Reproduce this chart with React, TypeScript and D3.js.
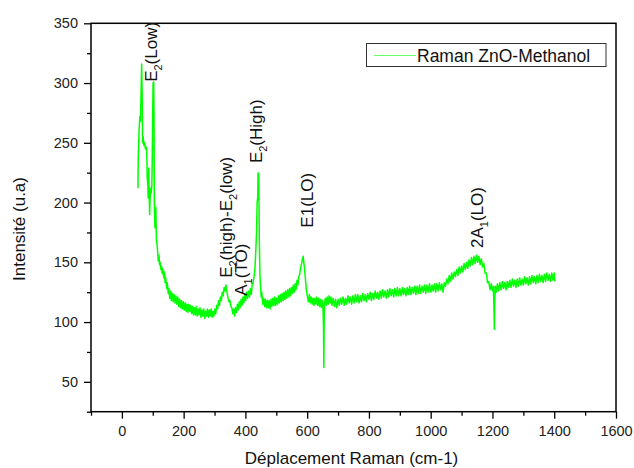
import * as d3 from "d3";
import React, { useEffect, useRef } from "react";

// Raman shift (cm-1) / intensity (u.a)
const spectrum: [number, number][] = [
  [52, 212], [53, 237], [55, 255], [56, 262], [58, 272], [60, 268], [62, 290], [64, 316], [65, 300], [66, 285],
  [67, 250], [69, 255], [71, 248], [74, 250], [76, 245], [78, 247], [80, 243], [81, 238], [82, 221], [84, 215],
  [85, 204], [87, 229], [88, 212], [90, 190], [91, 200], [93, 212], [95, 208], [97, 214], [98, 230], [99, 254],
  [101, 300], [103, 301], [104, 274], [105, 201], [107, 179], [108, 190], [110, 196], [111, 180], [112, 168], [114, 165],
  [116, 158], [118, 151], [120, 156], [122, 148], [124, 150], [126, 144], [128, 147], [130, 141], [132, 145], [134, 140],
  [136, 137], [138, 142], [140, 133], [142, 137], [145, 128], [147, 133], [150, 124], [152, 128], [155, 120], [158, 126],
  [160, 118], [163, 124], [166, 117], [169, 123], [172, 116], [175, 122], [178, 115], [181, 121], [184, 113], [187, 119],
  [190, 112], [193, 118], [196, 111], [199, 117], [202, 110], [205, 116], [208, 109], [211, 115], [214, 108], [217, 115],
  [220, 109], [223, 114], [226, 107], [229, 113], [232, 106], [235, 112], [238, 106], [241, 113], [244, 105], [247, 111],
  [250, 106], [253, 112], [256, 104], [259, 110], [262, 105], [265, 111], [268, 103], [271, 109], [274, 105], [277, 111],
  [280, 104], [283, 110], [286, 105], [289, 111], [292, 104], [295, 109], [298, 105], [301, 111], [304, 107], [307, 114],
  [310, 111], [313, 118], [316, 114], [319, 121], [322, 118], [325, 125], [328, 122], [331, 129], [334, 126], [337, 131],
  [339, 126], [341, 124], [344, 120], [347, 117], [350, 118], [353, 113], [356, 112], [359, 107], [362, 111], [365, 105],
  [368, 112], [371, 108], [374, 115], [377, 110], [380, 117], [383, 112], [386, 119], [389, 114], [392, 121], [395, 116],
  [398, 123], [401, 118], [404, 125], [407, 120], [410, 126], [413, 121], [416, 128], [419, 123], [422, 131], [425, 133],
  [428, 138], [431, 145], [434, 162], [436, 175], [438, 200], [440, 205], [441, 225], [442, 210], [443, 224], [444, 200],
  [445, 170], [447, 140], [449, 130], [451, 121], [453, 125], [456, 115], [459, 120], [462, 113], [465, 119], [468, 112],
  [471, 118], [474, 112], [477, 118], [480, 111], [483, 119], [486, 113], [489, 120], [492, 114], [495, 121], [498, 114],
  [501, 120], [504, 115], [507, 122], [510, 116], [513, 123], [516, 117], [519, 124], [522, 118], [525, 125], [528, 119],
  [531, 126], [534, 120], [537, 127], [540, 121], [543, 128], [546, 122], [549, 129], [552, 124], [555, 131], [558, 125],
  [561, 132], [564, 127], [567, 135], [570, 131], [573, 138], [576, 140], [579, 146], [582, 149], [585, 153], [587, 155],
  [589, 150], [591, 146], [593, 140], [595, 134], [597, 128], [599, 124], [601, 121], [604, 117], [607, 123], [610, 116],
  [613, 121], [616, 115], [619, 120], [622, 114], [625, 120], [628, 115], [631, 121], [634, 114], [637, 120], [640, 113],
  [643, 119], [646, 112], [649, 118], [651, 114], [653, 95], [654, 62], [655, 100], [656, 116], [659, 120], [662, 114],
  [665, 121], [668, 115], [671, 122], [674, 116], [677, 121], [680, 114], [684, 120], [688, 113], [692, 119], [696, 112],
  [700, 119], [704, 114], [708, 120], [712, 115], [716, 121], [720, 114], [724, 120], [728, 115], [732, 122], [736, 116],
  [740, 121], [744, 115], [748, 122], [752, 116], [756, 123], [760, 117], [764, 123], [768, 116], [772, 122], [776, 117],
  [780, 124], [784, 118], [788, 123], [792, 117], [796, 124], [800, 119], [804, 125], [808, 118], [812, 124], [816, 119],
  [820, 126], [824, 120], [828, 125], [832, 119], [836, 126], [840, 120], [844, 127], [848, 121], [852, 126], [856, 120],
  [860, 127], [864, 121], [868, 128], [872, 122], [876, 127], [880, 121], [884, 128], [888, 122], [892, 129], [896, 122],
  [900, 128], [904, 122], [908, 129], [912, 123], [916, 128], [920, 122], [924, 129], [928, 123], [932, 130], [936, 123],
  [940, 129], [944, 124], [948, 130], [952, 123], [956, 130], [960, 124], [964, 131], [968, 124], [972, 130], [976, 125],
  [980, 131], [984, 124], [988, 131], [992, 125], [996, 132], [1000, 125], [1004, 131], [1008, 126], [1012, 132], [1016, 125],
  [1020, 132], [1024, 126], [1028, 133], [1032, 127], [1036, 132], [1040, 125], [1044, 133], [1048, 130], [1052, 136], [1056, 132],
  [1060, 139], [1064, 134], [1068, 141], [1072, 136], [1076, 142], [1080, 138], [1084, 144], [1088, 139], [1092, 146], [1096, 141],
  [1100, 147], [1104, 142], [1108, 149], [1112, 144], [1116, 150], [1120, 145], [1124, 152], [1128, 147], [1132, 154], [1136, 148],
  [1140, 155], [1144, 149], [1148, 156], [1152, 150], [1156, 155], [1160, 148], [1164, 153], [1168, 146], [1172, 149], [1176, 141],
  [1180, 141], [1184, 133], [1188, 134], [1192, 127], [1196, 132], [1200, 126], [1203, 130], [1205, 110], [1206, 94], [1207, 112],
  [1209, 130], [1212, 125], [1216, 132], [1220, 126], [1224, 133], [1228, 127], [1232, 134], [1236, 128], [1240, 133], [1244, 127],
  [1248, 134], [1252, 129], [1256, 135], [1260, 129], [1264, 136], [1268, 130], [1272, 135], [1276, 129], [1280, 136], [1284, 130],
  [1288, 137], [1292, 131], [1296, 136], [1300, 131], [1304, 138], [1308, 132], [1312, 137], [1316, 131], [1320, 138], [1324, 132],
  [1328, 139], [1332, 133], [1336, 138], [1340, 132], [1344, 139], [1348, 133], [1352, 140], [1356, 134], [1360, 139], [1364, 133],
  [1368, 140], [1372, 134], [1376, 141], [1380, 135], [1384, 140], [1388, 134], [1392, 141], [1396, 135], [1400, 141], [1402, 134],
];

// peak labels: anchor in data space (shift, intensity), main text, subscript, rest
const annotations = [
  { x: 113, y: 301, main: "E", sub: "2", rest: "(Low)" },
  { x: 356, y: 137, main: "E", sub: "2", rest: "(high)-E", sub2: "2", rest2: "(low)" },
  { x: 405, y: 122, main: "A", sub: "1", rest: "(TO)" },
  { x: 453, y: 233, main: "E", sub: "2", rest: "(High)" },
  { x: 618, y: 179, main: "E1(LO)", sub: "", rest: "" },
  { x: 1169, y: 162, main: "2A", sub: "1", rest: "(LO)" },
];

const xTicks = [0, 200, 400, 600, 800, 1000, 1200, 1400, 1600];
const xMinorTicks = [-100, 100, 300, 500, 700, 900, 1100, 1300, 1500];
const yTicks = [50, 100, 150, 200, 250, 300, 350];
const yMinorTicks = [25, 75, 125, 175, 225, 275, 325];
const seriesName = "Raman ZnO-Methanol";
const xTitle = "Déplacement Raman (cm-1)";
const yTitle = "Intensité (u.a)";

const GREEN = "#00ff00";
const FONT = "'Liberation Sans', Arial, sans-serif";

export default function App() {
  const ref = useRef<SVGSVGElement>(null);

  useEffect(() => {
    const svg = d3.select(ref.current);
    svg.selectAll("*").remove();

    const width = 634;
    const height = 468;
    const left = 91, right = 616, top = 23.3, bottom = 411.7;

    const x = d3.scaleLinear().domain([-100, 1600]).range([left, right]);
    const y = d3.scaleLinear().domain([25, 350]).range([bottom, top]);

    svg.attr("width", width).attr("height", height);

    svg.append("rect").attr("width", width).attr("height", height).attr("fill", "#fff");

    // spectrum
    const line = d3.line<[number, number]>()
      .x(d => x(d[0]))
      .y(d => y(d[1]));

    svg.append("path")
      .datum(spectrum)
      .attr("fill", "none")
      .attr("stroke", GREEN)
      .attr("stroke-width", 1.5)
      .attr("stroke-linejoin", "round")
      .attr("d", line);

    // frame
    svg.append("rect")
      .attr("x", left)
      .attr("y", top)
      .attr("width", right - left)
      .attr("height", bottom - top)
      .attr("fill", "none")
      .attr("stroke", "#000")
      .attr("stroke-width", 1.5);

    // axes
    const styleAxis = (g: any) => {
      g.select(".domain").remove();
      g.selectAll("line").attr("stroke", "#000").attr("stroke-width", 1.3);
      g.selectAll("text")
        .attr("fill", "#222")
        .style("font-family", FONT)
        .style("font-size", "14.5px");
    };

    svg.append("g")
      .attr("transform", `translate(0,${bottom})`)
      .call(d3.axisBottom(x).tickValues(xTicks).tickSize(7).tickPadding(7).tickFormat(d3.format("d")))
      .call(styleAxis);

    svg.append("g")
      .attr("transform", `translate(0,${bottom})`)
      .call(d3.axisBottom(x).tickValues(xMinorTicks).tickSize(4).tickFormat(() => ""))
      .call(styleAxis);

    svg.append("g")
      .attr("transform", `translate(${left},0)`)
      .call(d3.axisLeft(y).tickValues(yTicks).tickSize(7).tickPadding(6).tickFormat(d3.format("d")))
      .call(styleAxis);

    svg.append("g")
      .attr("transform", `translate(${left},0)`)
      .call(d3.axisLeft(y).tickValues(yMinorTicks).tickSize(4).tickFormat(() => ""))
      .call(styleAxis);

    // axis titles
    svg.append("text")
      .attr("x", (left + right) / 2 - 2)
      .attr("y", 463.5)
      .attr("text-anchor", "middle")
      .style("font-family", FONT)
      .style("font-size", "17px")
      .attr("fill", "#111")
      .text(xTitle);

    svg.append("text")
      .attr("transform", "rotate(-90)")
      .attr("x", -229)
      .attr("y", 25)
      .attr("text-anchor", "middle")
      .style("font-family", FONT)
      .style("font-size", "17px")
      .attr("fill", "#111")
      .text(yTitle);

    // peak labels
    annotations.forEach(a => {
      const t = svg.append("text")
        .attr("transform", `translate(${x(a.x)},${y(a.y)}) rotate(-90)`)
        .style("font-family", FONT)
        .style("font-size", "17px")
        .attr("fill", "#111");
      t.append("tspan").text(a.main);
      if (a.sub) {
        t.append("tspan").attr("dy", 5).style("font-size", "11px").text(a.sub);
        t.append("tspan").attr("dy", -5).text(a.rest);
      }
      if (a.sub2) {
        t.append("tspan").attr("dy", 5).style("font-size", "11px").text(a.sub2);
        t.append("tspan").attr("dy", -5).text(a.rest2);
      }
    });

    // legend
    svg.append("rect")
      .attr("x", 366.5)
      .attr("y", 43.5)
      .attr("width", 239.5)
      .attr("height", 23)
      .attr("fill", "#fff")
      .attr("stroke", "#333")
      .attr("stroke-width", 1);

    svg.append("line")
      .attr("x1", 374)
      .attr("x2", 416)
      .attr("y1", 55.5)
      .attr("y2", 55.5)
      .attr("stroke", GREEN)
      .attr("stroke-opacity", 0.6)
      .attr("stroke-width", 1.2);

    svg.append("text")
      .attr("x", 417)
      .attr("y", 61.5)
      .style("font-family", FONT)
      .style("font-size", "17.5px")
      .attr("fill", "#111")
      .text(seriesName);
  }, []);

  return <svg ref={ref} style={{ position: "absolute", left: 0, top: 0 }} />;
}
